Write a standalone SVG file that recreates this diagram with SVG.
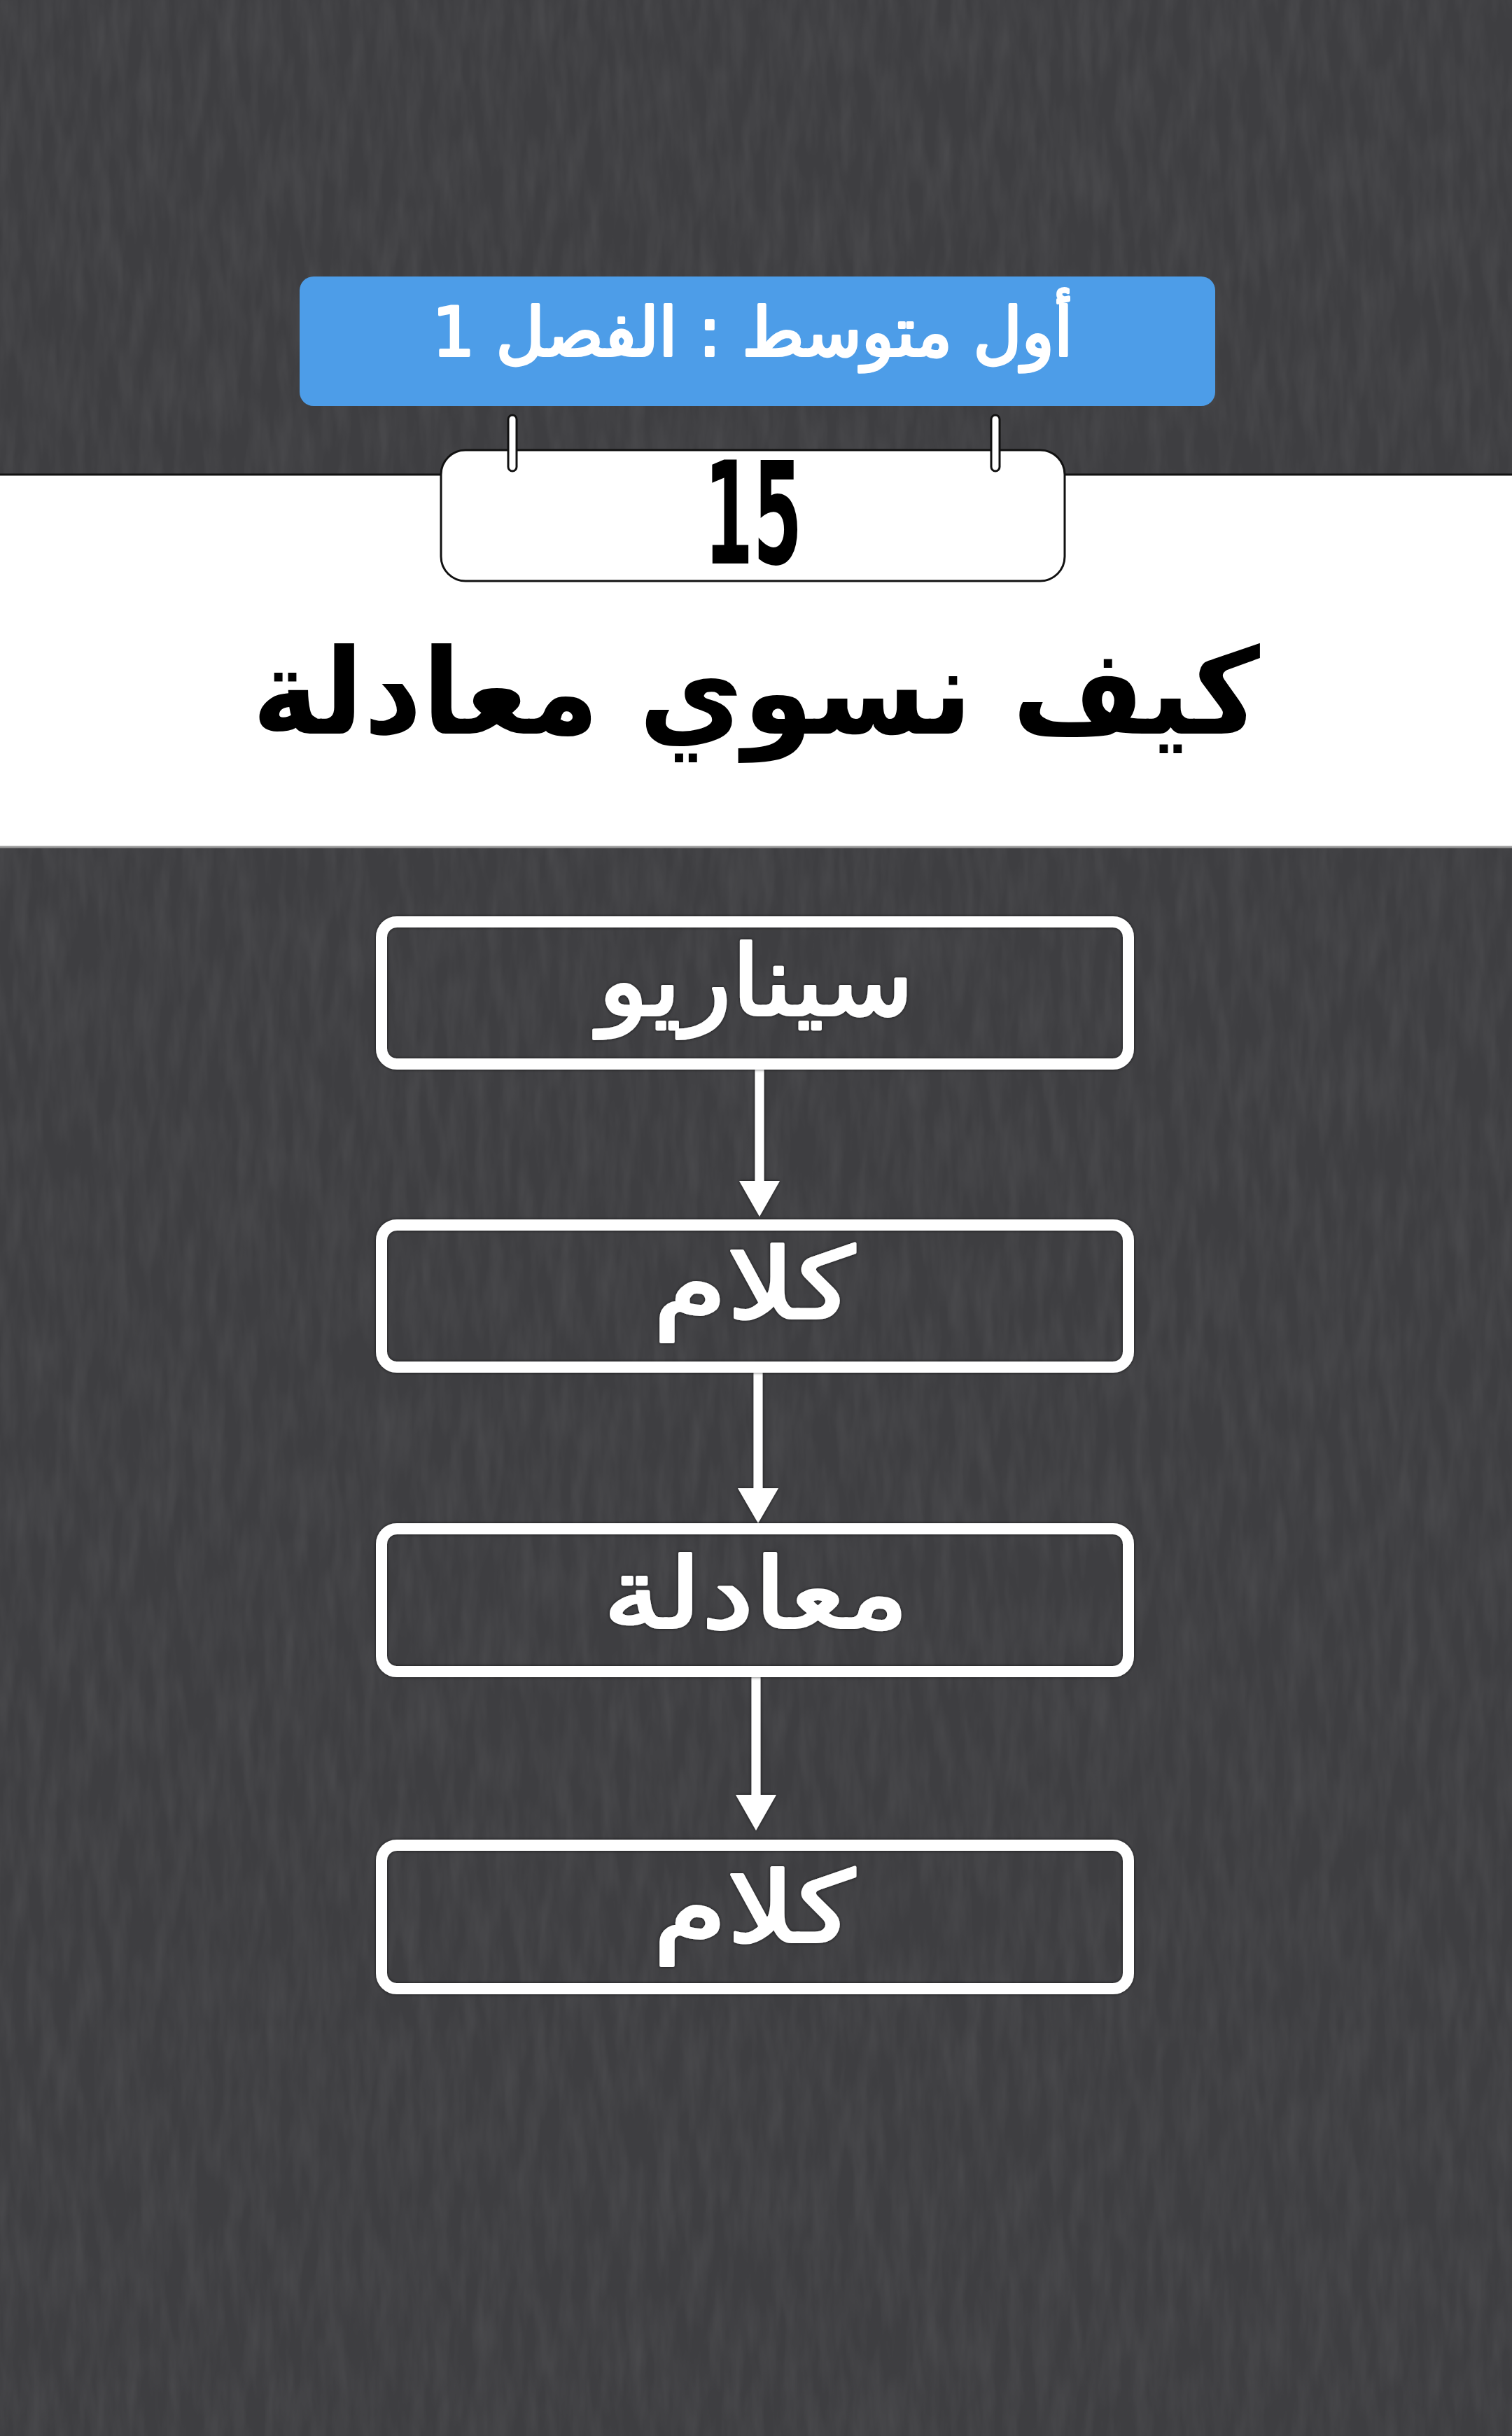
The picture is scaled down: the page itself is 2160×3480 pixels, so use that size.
<svg xmlns="http://www.w3.org/2000/svg" width="2160" height="3480" viewBox="0 0 2160 3480">
<style>
.ar{font-family:"DejaVu Sans","Noto Sans",sans-serif;text-anchor:middle}
.b{font-weight:bold}
.m{stroke:#ffffff;stroke-width:4;stroke-linejoin:round}
.box{fill:none;stroke:#ffffff;stroke-width:16}
.conn{stroke:#ffffff;stroke-width:13;fill:none}
.head{fill:#ffffff}
.ring{fill:#ffffff;stroke:#111111;stroke-width:3}
.wt{fill:#ffffff}
</style>
<defs>
<filter id="noise" filterUnits="userSpaceOnUse" x="0" y="0" width="2160" height="3480">
<feTurbulence type="fractalNoise" baseFrequency="0.05 0.01" numOctaves="3" seed="7" result="n"/>
<feColorMatrix in="n" type="matrix" values="0 0 0 0 1  0 0 0 0 1  0 0 0 0 1  0.1 0 0 0 -0.035"/>
</filter>
<filter id="sh" filterUnits="userSpaceOnUse" x="0" y="0" width="2160" height="3480">
<feDropShadow dx="0" dy="0" stdDeviation="2" flood-color="#000" flood-opacity="0.7"/>
</filter>
</defs>

<!-- background -->
<rect x="0" y="0" width="2160" height="3480" fill="#3e3e41"/>
<rect x="0" y="0" width="2160" height="3480" filter="url(#noise)"/>

<!-- white band -->
<rect x="0" y="678" width="2160" height="532" fill="#ffffff"/>
<line x1="0" y1="678" x2="2160" y2="678" stroke="#111" stroke-width="3"/>
<line x1="0" y1="1210" x2="2160" y2="1210" stroke="#9a9a9a" stroke-width="3"/>

<g id="banner">
<rect x="428" y="395" width="1308" height="185" rx="20" fill="#4d9de8"/>
<text class="ar m wt" x="1075" y="508" font-size="96" direction="rtl" textLength="915" lengthAdjust="spacingAndGlyphs">أول متوسط : الفصل 1</text>
</g>

<g id="calendar">
<rect x="630" y="643" width="891" height="187" rx="35" fill="#ffffff" stroke="#111111" stroke-width="3"/>
<rect class="ring" x="726" y="593" width="12" height="80" rx="6"/>
<rect class="ring" x="1416" y="593" width="12" height="80" rx="6"/>
<text x="1076" y="805" font-family="DejaVu Sans Condensed,DejaVu Sans,sans-serif" font-weight="bold" font-size="203" text-anchor="middle" fill="#000" textLength="140" lengthAdjust="spacingAndGlyphs">15</text>
</g>

<g id="title">
<text class="ar b" x="1080" y="1048" font-size="170" fill="#000" direction="rtl" textLength="1440" lengthAdjust="spacingAndGlyphs">كيف نسوي معادلة</text>
</g>

<g id="connectors" filter="url(#sh)">
<line class="conn" x1="1085" y1="1528" x2="1085" y2="1690"/>
<polygon class="head" points="1056,1687 1114,1687 1085,1738"/>
<line class="conn" x1="1083" y1="1961" x2="1083" y2="2129"/>
<polygon class="head" points="1054,2126 1112,2126 1083,2176"/>
<line class="conn" x1="1080" y1="2396" x2="1080" y2="2567"/>
<polygon class="head" points="1051,2564 1109,2564 1080,2615"/>
</g>

<g id="node1" filter="url(#sh)">
<rect class="box" x="545" y="1317" width="1067" height="203" rx="22"/>
<text class="ar m wt" x="1080" y="1450" font-size="140" direction="rtl" textLength="451" lengthAdjust="spacingAndGlyphs">سيناريو</text>
</g>

<g id="node2" filter="url(#sh)">
<rect class="box" x="545" y="1750" width="1067" height="203" rx="22"/>
<text class="ar m wt" x="1077" y="1883" font-size="140" direction="rtl" textLength="288" lengthAdjust="spacingAndGlyphs">كلام</text>
</g>

<g id="node3" filter="url(#sh)">
<rect class="box" x="545" y="2184" width="1067" height="204" rx="22"/>
<text class="ar m wt" x="1080" y="2325" font-size="140" direction="rtl" textLength="437" lengthAdjust="spacingAndGlyphs">معادلة</text>
</g>

<g id="node4" filter="url(#sh)">
<rect class="box" x="545" y="2636" width="1067" height="205" rx="22"/>
<text class="ar m wt" x="1077" y="2774" font-size="140" direction="rtl" textLength="288" lengthAdjust="spacingAndGlyphs">كلام</text>
</g>
</svg>
